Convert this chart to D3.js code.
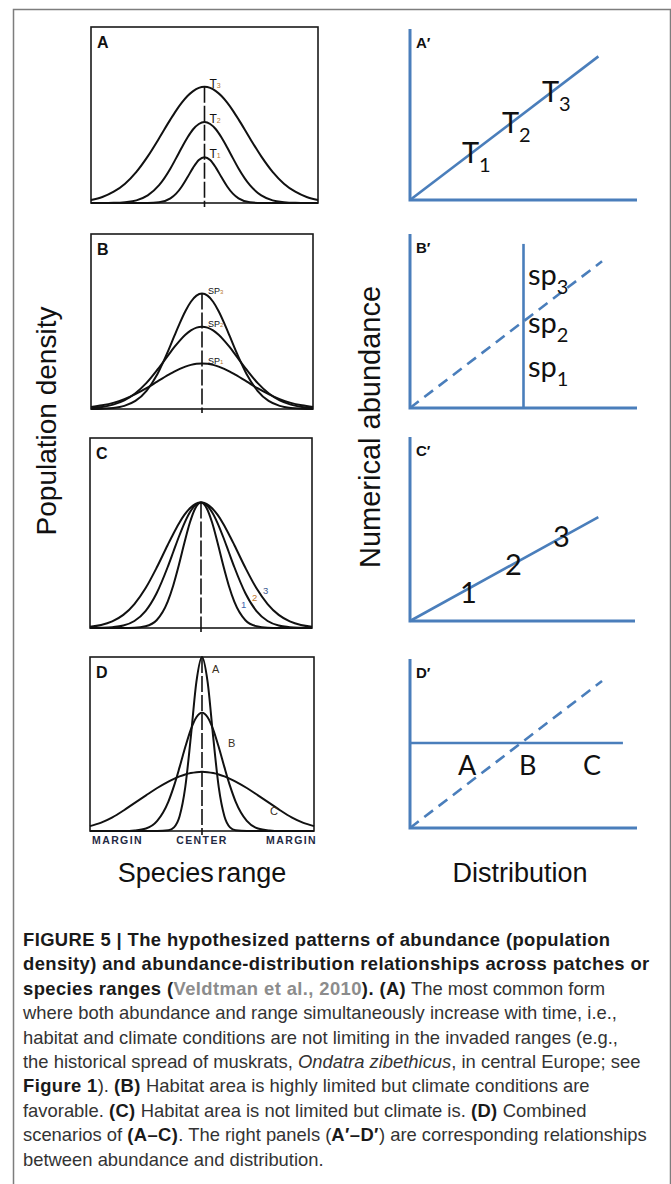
<!DOCTYPE html>
<html><head><meta charset="utf-8">
<script src="https://cdn.jsdelivr.net/npm/d3@7"></script>
<style>body{margin:0;background:#fff} svg{display:block}</style>
</head><body><svg id="c" width="671" height="1184"></svg>
<script>
// ---------- DATA ----------
// positions along the species range (MARGIN -1 ... CENTER 0 ... MARGIN 1)
const rangeX = [-1,-0.9,-0.8,-0.7,-0.6,-0.5,-0.4,-0.3,-0.25,-0.2,-0.15,-0.1,-0.05,0,0.05,0.1,0.15,0.2,0.25,0.3,0.4,0.5,0.6,0.7,0.8,0.9,1];
// Panel A: population density at times T3, T2, T1
const densT3 = [.017,.034,.064,.110,.177,.265,.368,.475,.525,.570,.608,.636,.654,.660,.654,.636,.608,.570,.525,.475,.368,.265,.177,.110,.064,.034,.017];
const densT2 = [0,0,.001,.005,.015,.043,.101,.196,.255,.315,.372,.419,.449,.460,.449,.419,.372,.315,.255,.196,.101,.043,.015,.005,.001,0,0];
const densT1 = [0,0,0,0,0,0,.004,.026,.053,.094,.146,.201,.244,.260,.244,.201,.146,.094,.053,.026,.004,0,0,0,0,0,0];
// Panel B: species SP3, SP2, SP1
const densSP3 = [0,.002,.006,.018,.046,.104,.202,.339,.416,.491,.559,.613,.648,.660,.648,.613,.559,.491,.416,.339,.202,.104,.046,.018,.006,.002,0];
const densSP2 = [.005,.011,.025,.049,.090,.149,.226,.311,.353,.391,.424,.449,.465,.470,.465,.449,.424,.391,.353,.311,.226,.149,.090,.049,.025,.011,.005];
const densSP1 = [.011,.021,.035,.056,.085,.119,.158,.196,.214,.229,.242,.252,.258,.260,.258,.252,.242,.229,.214,.196,.158,.119,.085,.056,.035,.021,.011];
// Panel C: curves 1, 2, 3
const densC1 = [0,0,0,0,.001,.009,.041,.139,.224,.330,.447,.555,.632,.660,.632,.555,.447,.330,.224,.139,.041,.009,.001,0,0,0,0];
const densC2 = [0,.001,.004,.013,.037,.089,.183,.321,.400,.479,.551,.609,.647,.660,.647,.609,.551,.479,.400,.321,.183,.089,.037,.013,.004,.001,0];
const densC3 = [.007,.016,.035,.069,.126,.209,.317,.437,.495,.549,.595,.630,.653,.660,.653,.630,.595,.549,.495,.437,.317,.209,.126,.069,.035,.016,.007];
// Panel D: scenarios A, B, C
const densDA = [0,0,0,0,0,0,0,.004,.021,.085,.249,.539,.857,1.000,.857,.539,.249,.085,.021,.004,0,0,0,0,0,0,0];
const densDB = [0,0,0,0,.003,.014,.058,.169,.259,.367,.481,.583,.654,.680,.654,.583,.481,.367,.259,.169,.058,.014,.003,0,0,0,0];
const densDC = [.028,.048,.078,.118,.162,.205,.247,.284,.300,.314,.325,.333,.338,.340,.338,.333,.325,.314,.300,.284,.247,.205,.162,.118,.078,.048,.028];
const rangeTicks = ["MARGIN","CENTER","MARGIN"];
const rangeTickPos = [-1,0,1];

// Right panels: abundance vs distribution (0..1 both)
const linesA = [{pts:[[0,0],[0.83,0.84]],dash:false}];
const linesB = [{pts:[[0.50,0],[0.50,0.943]],dash:false},{pts:[[0,0],[0.846,0.843]],dash:true}];
const linesC = [{pts:[[0,0],[0.837,0.565]],dash:false}];
const linesD = [{pts:[[0,0.503],[0.938,0.503]],dash:false},{pts:[[0,0],[0.846,0.87]],dash:true}];

// ---------- LAYOUT ----------
const FONT = "Liberation Sans, Arial, Helvetica, sans-serif";
const CAL = "Lato, Carlito, 'Open Sans', sans-serif";
const BLUE = "#4a7ebb";
const svg = d3.select("#c");

// outer frame
svg.append("path").attr("d","M13.5,1184V9.5H670.5V1184").attr("fill","none")
  .attr("stroke","#7d7d7d").attr("stroke-width",1.5);

function subLabel(g, x, y, main, sub, size, subSize, dy, subColor, family, weight){
  const t = g.append("text").attr("x",x).attr("y",y).attr("font-family",family)
    .attr("font-size",size).attr("fill","#111");
  if (weight) t.attr("font-weight",weight);
  t.append("tspan").text(main);
  if (sub) t.append("tspan").attr("dy",dy).attr("font-size",subSize).attr("fill",subColor).text(sub);
}

function leftPanel(p){
  const [x0,x1,y0,y1] = p.box;
  const xs = d3.scaleLinear().domain([-1,1]).range([x0,x1]);
  const ys = d3.scaleLinear().domain([0,1]).range([y1,y0]);
  const g = svg.append("g");
  g.append("rect").attr("x",x0).attr("y",y0).attr("width",x1-x0).attr("height",y1-y0)
    .attr("fill","none").attr("stroke","#1a1a1a").attr("stroke-width",1.6);
  const line = d3.line().x((d,i)=>xs(rangeX[i])).y(d=>ys(d)).curve(d3.curveMonotoneX);
  p.curves.forEach(c=> g.append("path").attr("d",line(c)).attr("fill","none")
    .attr("stroke","#111").attr("stroke-width",2));
  const top = d3.max(p.curves, c=>d3.max(c));
  g.append("line").attr("x1",xs(0)).attr("x2",xs(0)).attr("y1",ys(top)).attr("y2",y1+4)
    .attr("stroke","#111").attr("stroke-width",1.6).attr("stroke-dasharray","16,3");
  g.append("text").attr("x",x0+6).attr("y",y0+21).text(p.id)
    .attr("font-family",FONT).attr("font-weight","bold").attr("font-size",16).attr("fill","#111");
  p.labels(g, xs, ys);
  if (p.ticks){
    rangeTicks.forEach((t,i)=>{
      const anchor = i===0 ? "start" : (i===2 ? "end" : "middle");
      g.append("text").attr("x",xs(rangeTickPos[i])+(i===0?2:(i===2?3:0))).attr("y",y1+13)
        .attr("text-anchor",anchor).attr("font-family",FONT).attr("font-weight","bold")
        .attr("font-size",10.5).attr("letter-spacing",1.4).attr("fill","#1f2a44").text(t);
    });
  }
}

const ORANGE = "#b8762c";
leftPanel({id:"A", box:[91,318,27,203], curves:[densT3,densT2,densT1],
  labels:(g,xs,ys)=>{
    [[densT3,"3"],[densT2,"2"],[densT1,"1"]].forEach(([c,s])=>
      subLabel(g, xs(0)+5, ys(d3.max(c))+1, "T", s, 12, 7, 0, ORANGE, FONT));
  }});
leftPanel({id:"B", box:[91,313,234,409], curves:[densSP3,densSP2,densSP1],
  labels:(g,xs,ys)=>{
    [[densSP3,"3"],[densSP2,"2"],[densSP1,"1"]].forEach(([c,s])=>
      subLabel(g, xs(0)+6, ys(d3.max(c))+0, "SP", s, 9, 6, 0, ORANGE, FONT));
  }});
leftPanel({id:"C", box:[90,312,438,628], curves:[densC1,densC2,densC3],
  labels:(g,xs,ys)=>{
    [["1",241,608,"#3d66ad"],["2",252,601,"#c0782c"],["3",263,594,"#3d5a90"]].forEach(([t,x,y,col])=>
      g.append("text").attr("x",x).attr("y",y).attr("font-family",FONT).attr("font-size",9.5)
        .attr("fill",col).text(t));
  }});
leftPanel({id:"D", box:[90,314,657,831], curves:[densDA,densDB,densDC], ticks:true,
  labels:(g,xs,ys)=>{
    [["A",212,673],["B",228,747],["C",270,815]].forEach(([t,x,y])=>
      g.append("text").attr("x",x).attr("y",y).attr("font-family",FONT).attr("font-size",11)
        .attr("fill","#3a2f22").text(t));
  }});

function rightPanel(p){
  const xs = d3.scaleLinear().domain([0,1]).range([410,p.right]);
  const ys = d3.scaleLinear().domain([0,1]).range([p.bottom,p.top]);
  const g = svg.append("g");
  const ln = d3.line().x(d=>xs(d[0])).y(d=>ys(d[1]));
  g.append("path").attr("d",ln([[0,1],[0,0],[1,0]])).attr("fill","none")
    .attr("stroke",BLUE).attr("stroke-width",3);
  p.lines.forEach(l=>{
    const path = g.append("path").attr("d",ln(l.pts)).attr("fill","none")
      .attr("stroke",BLUE).attr("stroke-width",2.6);
    if (l.dash) path.attr("stroke-dasharray","11,7");
  });
  g.append("text").attr("x",416).attr("y",p.top+19).attr("font-family",FONT)
    .attr("font-weight","bold").attr("font-size",15).attr("fill","#111").text(p.id);
  p.labels.forEach(L=> subLabel(g, xs(L[0]), ys(L[1]), L[2], L[3], p.fs, 20, 9, "#111", CAL));
}

rightPanel({id:"A′", top:29, bottom:200, right:637, lines:linesA, fs:29,
  labels:[[0.229,0.216,"T","1"],[0.405,0.392,"T","2"],[0.581,0.573,"T","3"]]});
rightPanel({id:"B′", top:234, bottom:408, right:637, lines:linesB, fs:29,
  labels:[[0.52,0.707,"sp","3"],[0.52,0.431,"sp","2"],[0.52,0.178,"sp","1"]]});
rightPanel({id:"C′", top:437, bottom:621, right:635, lines:linesC, fs:29,
  labels:[[0.222,0.098,"1",""],[0.422,0.25,"2",""],[0.636,0.402,"3",""]]});
rightPanel({id:"D′", top:659, bottom:828, right:637, lines:linesD, fs:27,
  labels:[[0.211,0.314,"A",""],[0.48,0.314,"B",""],[0.762,0.314,"C",""]]});

// axis titles
svg.append("text").attr("transform","translate(56,421) rotate(-90)").attr("text-anchor","middle")
  .attr("font-family",FONT).attr("font-size",28).attr("fill","#111").text("Population density");
svg.append("text").attr("transform","translate(380,427) rotate(-90)").attr("text-anchor","middle")
  .attr("font-family",FONT).attr("font-size",29).attr("fill","#111").text("Numerical abundance");
svg.append("text").attr("x",202).attr("y",882).attr("text-anchor","middle").attr("word-spacing",-4)
  .attr("font-family",FONT).attr("font-size",27).attr("fill","#111").text("Species range");
svg.append("text").attr("x",520).attr("y",882).attr("text-anchor","middle")
  .attr("font-family",FONT).attr("font-size",27).attr("fill","#111").text("Distribution");

// caption
const caption = [
  [["FIGURE 5 | The hypothesized patterns of abundance (population","b"]],
  [["density) and abundance-distribution relationships across patches or","b"]],
  [["species ranges (","b"],["Veldtman et al., 2010","g"],["). (A)","b"],[" The most common form","r"]],
  [["where both abundance and range simultaneously increase with time, i.e.,","r"]],
  [["habitat and climate conditions are not limiting in the invaded ranges (e.g.,","r"]],
  [["the historical spread of muskrats, ","r"],["Ondatra zibethicus","i"],[", in central Europe; see","r"]],
  [["Figure 1","b"],["). ","r"],["(B)","b"],[" Habitat area is highly limited but climate conditions are","r"]],
  [["favorable. ","r"],["(C)","b"],[" Habitat area is not limited but climate is. ","r"],["(D)","b"],[" Combined","r"]],
  [["scenarios of ","r"],["(A–C)","b"],[". The right panels (","r"],["A′–D′","b"],[") are corresponding relationships","r"]],
  [["between abundance and distribution.","r"]]
];
caption.forEach((segs,i)=>{
  const t = svg.append("text").attr("x",23).attr("y",946 + i*24.4).attr("font-family",FONT)
    .attr("font-size",18.4).attr("fill","#333");
  segs.forEach(([s,st])=>{
    const ts = t.append("tspan").text(s);
    if (st==="b"){ ts.attr("font-weight","bold").attr("fill","#1a1a1a").attr("letter-spacing",0.4); }
    if (st==="g"){ ts.attr("font-weight","bold").attr("fill","#8c8c8c").attr("letter-spacing",0.4); }
    if (st==="i"){ ts.attr("font-style","italic"); }
  });
});
</script></body></html>
